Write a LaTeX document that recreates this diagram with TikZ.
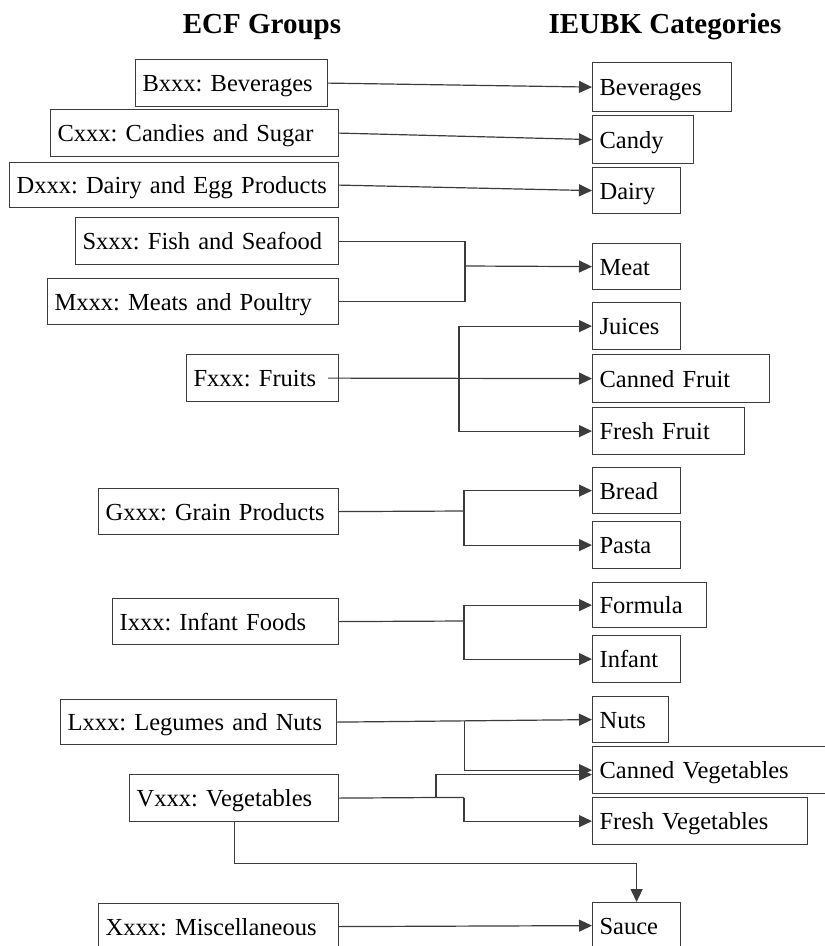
\documentclass[tikz,border=0pt]{standalone}
\usepackage{fontspec}
\setmainfont{Liberation Serif}
\usetikzlibrary{calc,arrows.meta}
\definecolor{linegray}{HTML}{3C3C3C}
\frenchspacing
\tikzset{
	box/.style={draw=linegray, line width=1.2pt, anchor=north west, inner xsep=7pt, inner ysep=0pt,
		minimum height=47pt, align=left, text height=20pt, text depth=3pt,
		font=\fontsize{24.5}{28}\selectfont},
	head/.style={anchor=base, font=\fontsize{29}{32}\selectfont\bfseries},
	conn/.style={draw=linegray, line width=1.2pt},
	arr/.style={conn, -{Triangle[length=13pt,width=12pt]}}
}

\begin{document}
\begin{tikzpicture}[x=1pt,y=-1pt]
		%%%%% START %%%%%
		\useasboundingbox (0,0) rectangle (825,946);
		\clip (0,0) rectangle (825,946);
		
		\node[head] (ecfhead) at (262,33) {ECF Groups};
		\node[head] (ieubkhead) at (665,33) {IEUBK Categories};
		
		% ECF groups
		\node[box, text width=178pt, minimum height=47pt] (bxxx) at (135,59) {Bxxx: Beverages};
		\node[box, text width=274pt, minimum height=47pt] (cxxx) at (50,109) {Cxxx: Candies and Sugar};
		\node[box, text width=315pt, minimum height=45pt] (dxxx) at (9,162) {Dxxx: Dairy and Egg Products};
		\node[box, text width=249pt, minimum height=47pt] (sxxx) at (75,217) {Sxxx: Fish and Seafood};
		\node[box, text width=277pt, minimum height=46pt] (mxxx) at (47,278) {Mxxx: Meats and Poultry};
		\node[box, text width=138pt, minimum height=47pt] (fxxx) at (186,354) {Fxxx: Fruits};
		\node[box, text width=226pt, minimum height=46pt] (gxxx) at (98,488) {Gxxx: Grain Products};
		\node[box, text width=212pt, minimum height=46pt] (ixxx) at (112,598) {Ixxx: Infant Foods};
		\node[box, text width=262pt, minimum height=45pt] (lxxx) at (60,699) {Lxxx: Legumes and Nuts};
		\node[box, text width=195pt, minimum height=47pt] (vxxx) at (129,774) {Vxxx: Vegetables};
		\node[box, text width=226pt, minimum height=46pt] (xxxx) at (98,903) {Xxxx: Miscellaneous};
		
		% IEUBK categories
		\node[box, text width=125pt, minimum height=49pt] (bev) at (592,62) {Beverages};
		\node[box, text width=87pt, minimum height=48pt] (candy) at (592,115) {Candy};
		\node[box, text width=74pt, minimum height=46pt] (dairy) at (592,167) {Dairy};
		\node[box, text width=74pt, minimum height=46pt] (meat) at (592,243) {Meat};
		\node[box, text width=74pt, minimum height=47pt] (juices) at (592,302) {Juices};
		\node[box, text width=163pt, minimum height=48pt] (cfruit) at (592,354) {Canned Fruit};
		\node[box, text width=138pt, minimum height=47pt] (ffruit) at (592,407) {Fresh Fruit};
		\node[box, text width=74pt, minimum height=46pt] (bread) at (592,467) {Bread};
		\node[box, text width=74pt, minimum height=47pt] (pasta) at (592,521) {Pasta};
		\node[box, text width=100pt, minimum height=45pt] (formula) at (592,582) {Formula};
		\node[box, text width=74pt, minimum height=47pt] (infant) at (592,635) {Infant};
		\node[box, text width=62pt, minimum height=46pt] (nuts) at (592,696) {Nuts};
		\node[box, text width=226pt, minimum height=47pt] (cveg) at (592,746) {Canned Vegetables};
		\node[box, text width=201pt, minimum height=47pt] (fveg) at (592,797) {Fresh Vegetables};
		\node[box, text width=74pt, minimum height=46pt] (sauce) at (592,902) {Sauce};
		
		% junctions
		\coordinate (jmeat) at (465,266);
		\coordinate (ffrom) at ($(fxxx.east)+(-11,0)$);
		\coordinate (jfruit) at (459,378);
		\coordinate (jgrain) at (464,511);
		\coordinate (jinfant) at (464,621);
		\coordinate (jleg) at ($(lxxx.east)!0.5!(nuts.west)$);
		\coordinate (jveg) at (436,797.5);
		\coordinate (jfresh) at (464,797.5);
		
		\draw[arr] (bxxx.east) -- (bev.west);
		\draw[arr] (cxxx.east) -- (candy.west);
		\draw[arr] (dxxx.east) -- (dairy.west);
		
		\draw[conn] (sxxx.east) -| (jmeat) |- (mxxx.east);
		\draw[arr] (jmeat) -- (meat.west);
		
		\draw[arr] (ffrom) -- (cfruit.west);
		\draw[arr] (jfruit) |- (juices.west);
		\draw[arr] (jfruit) |- (ffruit.west);
		
		\draw[conn] (gxxx.east) -- (jgrain);
		\draw[arr] (jgrain) |- (bread.west);
		\draw[arr] (jgrain) |- (pasta.west);
		
		\draw[conn] (ixxx.east) -- (jinfant);
		\draw[arr] (jinfant) |- (formula.west);
		\draw[arr] (jinfant) |- (infant.west);
		
		\draw[arr] (lxxx.east) -- (nuts.west);
		\draw[arr] (jleg) |- (cveg.west);
		\draw[conn] (vxxx.east) -- (jveg) -- (jfresh);
		\draw[arr] (jveg) |- ($(cveg.west)+(0,4.5)$);
		\draw[arr] (jfresh) |- (fveg.west);
		
		\draw[arr] (vxxx.south) -- ++(0,41) -| (sauce.north);
		\draw[arr] (xxxx.east) -- (sauce.west);
		
		%%%%% END %%%%%
\end{tikzpicture}
\end{document}
